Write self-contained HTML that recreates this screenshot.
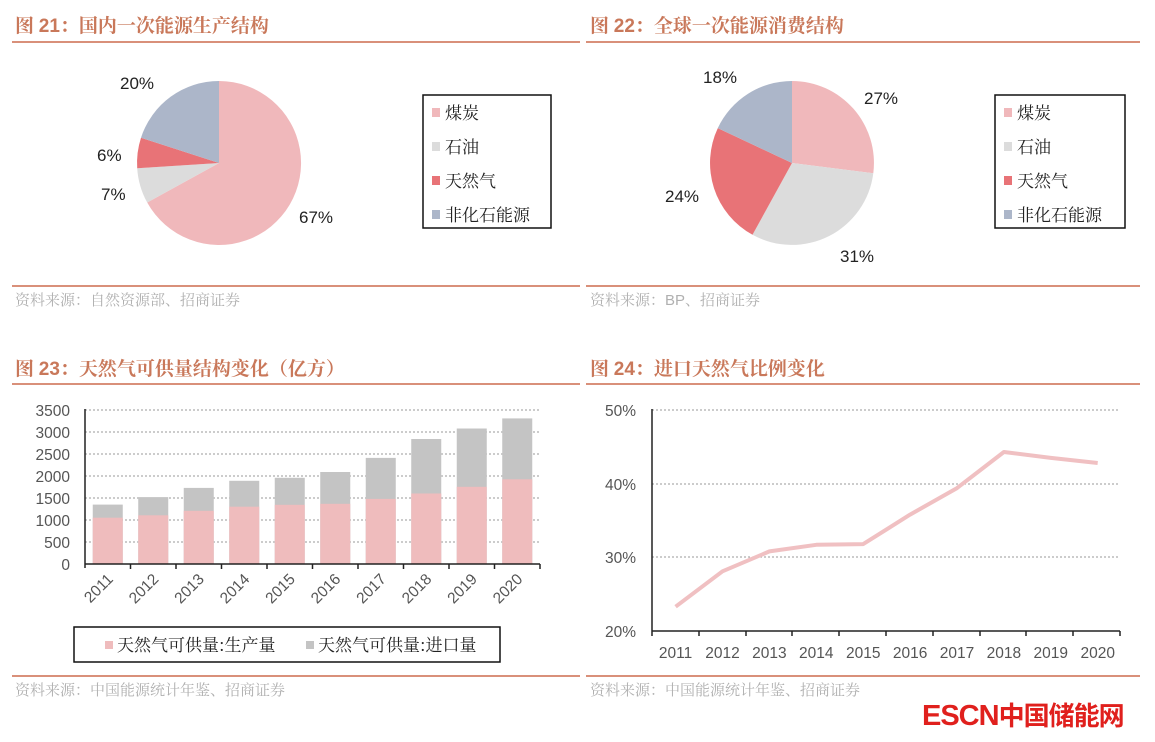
<!DOCTYPE html><html><head><meta charset="utf-8"><style>body{margin:0;background:#fff}svg{display:block}text{font-family:"Liberation Sans","Noto Sans CJK SC",sans-serif}.t{font-family:"Noto Serif CJK SC","Noto Sans CJK SC",serif;font-weight:bold;fill:#c9785a;font-size:19px}.s{font-family:"Noto Serif CJK SC","Noto Sans CJK SC",serif;fill:#b0b0b0;font-size:15px}.lg{font-family:"Noto Serif CJK SC","Noto Sans CJK SC",serif;font-size:17px;fill:#222}.ax{font-size:15.5px;fill:#555}</style></head><body>
<svg width="1155" height="742" viewBox="0 0 1155 742">
<g stroke="#d9907a" stroke-width="2">
<line x1="12" y1="42" x2="580" y2="42"/><line x1="586" y1="42" x2="1140" y2="42"/>
<line x1="12" y1="286" x2="580" y2="286"/><line x1="586" y1="286" x2="1140" y2="286"/>
<line x1="12" y1="384" x2="580" y2="384"/><line x1="586" y1="384" x2="1140" y2="384"/>
<line x1="12" y1="676" x2="580" y2="676"/><line x1="586" y1="676" x2="1140" y2="676"/>
</g>
<text class="t" x="15" y="32">图 <tspan font-family="Liberation Sans">21</tspan>：国内一次能源生产结构</text>
<text class="t" x="590" y="32">图 <tspan font-family="Liberation Sans">22</tspan>：全球一次能源消费结构</text>
<text class="t" x="15" y="375">图 <tspan font-family="Liberation Sans">23</tspan>：天然气可供量结构变化（亿方）</text>
<text class="t" x="590" y="375">图 <tspan font-family="Liberation Sans">24</tspan>：进口天然气比例变化</text>
<text class="s" x="15" y="305">资料来源：自然资源部、招商证券</text>
<text class="s" x="590" y="305">资料来源：<tspan font-family="Liberation Sans">BP</tspan>、招商证券</text>
<text class="s" x="15" y="695">资料来源：中国能源统计年鉴、招商证券</text>
<text class="s" x="590" y="695">资料来源：中国能源统计年鉴、招商证券</text>
<path d="M219 163 L219 81 A82 82 0 1 1 147.2 202.5Z" fill="#f0b8bb"/>
<path d="M219 163 L147.2 202.5 A82 82 0 0 1 137.2 168.2Z" fill="#dcdcdc"/>
<path d="M219 163 L137.2 168.2 A82 82 0 0 1 141 137.7Z" fill="#e87377"/>
<path d="M219 163 L141 137.7 A82 82 0 0 1 219 81Z" fill="#acb6c9"/>
<g font-size="17" fill="#222"><text x="120" y="89">20%</text><text x="97" y="161">6%</text><text x="101" y="200">7%</text><text x="299" y="223">67%</text>
<text x="703" y="83">18%</text><text x="864" y="104">27%</text><text x="665" y="202">24%</text><text x="840" y="262">31%</text></g>
<path d="M792 163 L792 81 A82 82 0 0 1 873.3 173.3Z" fill="#f0b8bb"/>
<path d="M792 163 L873.3 173.3 A82 82 0 0 1 752.5 234.8Z" fill="#dcdcdc"/>
<path d="M792 163 L752.5 234.8 A82 82 0 0 1 717.8 128.1Z" fill="#e87377"/>
<path d="M792 163 L717.8 128.1 A82 82 0 0 1 792 81Z" fill="#acb6c9"/>
<g fill="none" stroke="#111" stroke-width="1.5"><rect x="423" y="95" width="128" height="133"/><rect x="995" y="95" width="130" height="133"/><rect x="74" y="627" width="426" height="35"/></g>
<g><rect x="432" y="108" width="8" height="9" fill="#f0b8bb"/><rect x="432" y="142" width="8" height="9" fill="#dcdcdc"/><rect x="432" y="176" width="8" height="9" fill="#e87377"/><rect x="432" y="210" width="8" height="9" fill="#acb6c9"/>
<text class="lg" x="445" y="119">煤炭</text><text class="lg" x="445" y="153">石油</text><text class="lg" x="445" y="187">天然气</text><text class="lg" x="445" y="221">非化石能源</text>
<rect x="1004" y="108" width="8" height="9" fill="#f0b8bb"/><rect x="1004" y="142" width="8" height="9" fill="#dcdcdc"/><rect x="1004" y="176" width="8" height="9" fill="#e87377"/><rect x="1004" y="210" width="8" height="9" fill="#acb6c9"/>
<text class="lg" x="1017" y="119">煤炭</text><text class="lg" x="1017" y="153">石油</text><text class="lg" x="1017" y="187">天然气</text><text class="lg" x="1017" y="221">非化石能源</text></g>
<g stroke="#999" stroke-dasharray="2,2" stroke-width="1">
<line x1="85" y1="410" x2="540" y2="410"/><line x1="85" y1="432" x2="540" y2="432"/><line x1="85" y1="454" x2="540" y2="454"/><line x1="85" y1="476" x2="540" y2="476"/><line x1="85" y1="498" x2="540" y2="498"/><line x1="85" y1="520" x2="540" y2="520"/><line x1="85" y1="542" x2="540" y2="542"/></g>
<g fill="#c4c4c4">
<rect x="92.75" y="504.6" width="30" height="59.4"/><rect x="138.25" y="497.1" width="30" height="66.9"/><rect x="183.75" y="487.9" width="30" height="76.1"/><rect x="229.25" y="480.8" width="30" height="83.2"/><rect x="274.75" y="477.8" width="30" height="86.2"/><rect x="320.25" y="472" width="30" height="92"/><rect x="365.75" y="457.9" width="30" height="106.1"/><rect x="411.25" y="439" width="30" height="125"/><rect x="456.75" y="428.5" width="30" height="135.5"/><rect x="502.25" y="418.4" width="30" height="145.6"/></g>
<g fill="#efbcbd">
<rect x="92.75" y="517.7" width="30" height="46.3"/><rect x="138.25" y="515.3" width="30" height="48.7"/><rect x="183.75" y="510.8" width="30" height="53.2"/><rect x="229.25" y="506.7" width="30" height="57.3"/><rect x="274.75" y="504.8" width="30" height="59.2"/><rect x="320.25" y="503.8" width="30" height="60.2"/><rect x="365.75" y="498.9" width="30" height="65.1"/><rect x="411.25" y="493.5" width="30" height="70.5"/><rect x="456.75" y="486.8" width="30" height="77.2"/><rect x="502.25" y="479.3" width="30" height="84.7"/></g>
<g stroke="#222" stroke-width="1.5"><line x1="85" y1="409" x2="85" y2="568"/><line x1="85" y1="564" x2="540" y2="564"/>
<line x1="130.5" y1="564" x2="130.5" y2="569"/><line x1="176" y1="564" x2="176" y2="569"/><line x1="221.5" y1="564" x2="221.5" y2="569"/><line x1="267" y1="564" x2="267" y2="569"/><line x1="312.5" y1="564" x2="312.5" y2="569"/><line x1="358" y1="564" x2="358" y2="569"/><line x1="403.5" y1="564" x2="403.5" y2="569"/><line x1="449" y1="564" x2="449" y2="569"/><line x1="494.5" y1="564" x2="494.5" y2="569"/><line x1="540" y1="564" x2="540" y2="569"/></g>
<g class="ax" text-anchor="end"><text x="70" y="416">3500</text><text x="70" y="438">3000</text><text x="70" y="460">2500</text><text x="70" y="482">2000</text><text x="70" y="504">1500</text><text x="70" y="526">1000</text><text x="70" y="548">500</text><text x="70" y="570">0</text></g>
<g class="ax" text-anchor="end">
<text transform="translate(114,580) rotate(-45)">2011</text><text transform="translate(159.5,580) rotate(-45)">2012</text><text transform="translate(205,580) rotate(-45)">2013</text><text transform="translate(250.5,580) rotate(-45)">2014</text><text transform="translate(296,580) rotate(-45)">2015</text><text transform="translate(341.5,580) rotate(-45)">2016</text><text transform="translate(387,580) rotate(-45)">2017</text><text transform="translate(432.5,580) rotate(-45)">2018</text><text transform="translate(478,580) rotate(-45)">2019</text><text transform="translate(523.5,580) rotate(-45)">2020</text></g>
<rect x="105" y="641" width="8" height="8" fill="#efbcbd"/><text class="lg" x="117" y="651" font-size="15">天然气可供量:生产量</text>
<rect x="306" y="641" width="8" height="8" fill="#c4c4c4"/><text class="lg" x="318" y="651" font-size="15">天然气可供量:进口量</text>
<g stroke="#999" stroke-dasharray="2,2" stroke-width="1"><line x1="652" y1="410" x2="1120" y2="410"/><line x1="652" y1="484" x2="1120" y2="484"/><line x1="652" y1="557" x2="1120" y2="557"/></g>
<polyline fill="none" stroke="#f0c0c2" stroke-width="4" stroke-linejoin="round" points="675.6,606.7 722.5,571.3 769.4,551.4 816.3,544.8 863.2,544.1 910.1,514.6 957,488.1 1003.9,452 1050.8,457.9 1097.7,463"/>
<g stroke="#222" stroke-width="1.5"><line x1="652" y1="409" x2="652" y2="636"/><line x1="652" y1="631" x2="1120" y2="631"/>
<line x1="699" y1="631" x2="699" y2="636"/><line x1="746" y1="631" x2="746" y2="636"/><line x1="792" y1="631" x2="792" y2="636"/><line x1="839" y1="631" x2="839" y2="636"/><line x1="886" y1="631" x2="886" y2="636"/><line x1="933" y1="631" x2="933" y2="636"/><line x1="980" y1="631" x2="980" y2="636"/><line x1="1026" y1="631" x2="1026" y2="636"/><line x1="1073" y1="631" x2="1073" y2="636"/><line x1="1120" y1="631" x2="1120" y2="636"/></g>
<g class="ax" text-anchor="end"><text x="636" y="416">50%</text><text x="636" y="490">40%</text><text x="636" y="563">30%</text><text x="636" y="637">20%</text></g>
<g class="ax" text-anchor="middle"><text x="675.6" y="658">2011</text><text x="722.5" y="658">2012</text><text x="769.4" y="658">2013</text><text x="816.3" y="658">2014</text><text x="863.2" y="658">2015</text><text x="910.1" y="658">2016</text><text x="957" y="658">2017</text><text x="1003.9" y="658">2018</text><text x="1050.8" y="658">2019</text><text x="1097.7" y="658">2020</text></g>
<text x="922" y="725" font-size="29" font-weight="bold" fill="#e0201d" font-family="Liberation Sans,Noto Sans CJK SC,sans-serif" letter-spacing="-1">ESCN<tspan font-family="Noto Sans CJK SC,sans-serif" font-size="26">中国储能网</tspan></text>
</svg></body></html>
